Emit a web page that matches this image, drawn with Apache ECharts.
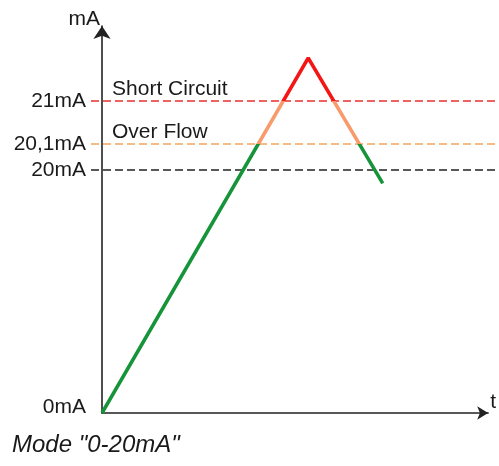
<!DOCTYPE html>
<html>
<head>
<meta charset="utf-8">
<script src="https://cdn.jsdelivr.net/npm/echarts@6/dist/echarts.min.js"></script>
<style>
  html, body { margin: 0; padding: 0; background: #fff; }
  #main { width: 499px; height: 466px; }
</style>
</head>
<body>
<div id="main"></div>
<script>
// time runs 0..100 along the t axis (arbitrary units)
const traceTime = [0, 53.4, 72.7]
const traceCurrent = [0, 21.9, 18.9] // mA

const levelValues = [21, 20.1, 20]
const levelNames = ['Short Circuit', 'Over Flow', '']
const levelColors = ['#e8312b', '#f4a55a', '#222222']

const tickValues = [0, 20, 20.1, 21]
const tickLabels = ['0mA', '20mA', '20,1mA', '21mA']

// the sketch is not to scale: the band above 20mA is stretched out
function toAxis(mA) {
  if (mA <= 20) return mA * 243 / 20
  if (mA <= 20.1) return 243 + (mA - 20) * 260
  return 269 + (mA - 20.1) * 43 / 0.9
}

const chartDom = document.getElementById('main')
const myChart = echarts.init(chartDom)

const font = 'Liberation Sans, Arial, sans-serif'
const textColor = '#1a1a1a'
const yMax = 387

// dashed threshold lines live in a second, wider grid (from the tick area to the right edge)
const levelSeries = levelValues.map((v, i) => ({
  type: 'line',
  xAxisIndex: 1,
  yAxisIndex: 1,
  silent: true,
  symbol: 'none',
  z: 2,
  data: [[0, toAxis(v)], [1, toAxis(v)]],
  lineStyle: { color: levelColors[i], width: 1.7, type: [8, 4] }
}))

// names written above the lines
const nameSeries = {
  type: 'scatter',
  symbolSize: 0,
  silent: true,
  z: 4,
  itemStyle: { opacity: 1 },
  data: levelValues
    .map((v, i) => ({ value: [2.6, toAxis(v)], name: levelNames[i] }))
    .filter(d => d.name !== ''),
  label: {
    show: true,
    position: [0, 0],
    offset: [0, -12],
    align: 'left',
    verticalAlign: 'middle',
    formatter: p => p.name,
    fontFamily: font,
    fontSize: 21,
    color: textColor,
    opacity: 1
  }
}

const traceSeries = {
  type: 'line',
  symbol: 'none',
  z: 3,
  data: traceTime.map((t, i) => [t, toAxis(traceCurrent[i])]),
  lineStyle: { width: 3.5 }
}

const hiddenAxis = {
  type: 'value',
  show: false,
  splitLine: { show: false }
}

const option = {
  animation: false,
  grid: [
    { left: 102, right: 9, top: 26, bottom: 53 },
    { left: 91, right: 0, top: 26, bottom: 53 }
  ],
  title: {
    text: 'Mode "0-20mA"',
    left: 12,
    top: 433,
    padding: 0,
    textStyle: { fontFamily: font, fontSize: 24, fontStyle: 'italic', fontWeight: 'normal', color: textColor }
  },
  visualMap: {
    type: 'piecewise',
    show: false,
    seriesIndex: 4,
    dimension: 1,
    pieces: [
      { lt: toAxis(20.1), color: '#16943a' },
      { gte: toAxis(20.1), lt: toAxis(21), color: '#f89a6b' },
      { gte: toAxis(21), color: '#f41515' }
    ]
  },
  xAxis: [
    {
      type: 'value',
      gridIndex: 0,
      min: 0,
      max: 100,
      name: 't',
      nameLocation: 'end',
      nameGap: 2,
      nameTextStyle: { fontFamily: font, fontSize: 21, color: textColor, verticalAlign: 'bottom' },
      axisLine: { lineStyle: { color: '#222', width: 1.6 }, symbol: ['none', 'arrow'], symbolSize: [10, 11] },
      axisTick: { show: false },
      axisLabel: { show: false },
      splitLine: { show: false }
    },
    { ...hiddenAxis, gridIndex: 1, min: 0, max: 1 }
  ],
  yAxis: [
    {
      type: 'value',
      gridIndex: 0,
      min: 0,
      max: yMax,
      name: 'mA',
      nameLocation: 'end',
      nameGap: -4,
      nameTextStyle: { fontFamily: font, fontSize: 21, color: textColor, align: 'right', padding: [0, 2, 0, 0] },
      axisLine: { show: true, lineStyle: { color: '#222', width: 1.6 }, symbol: ['none', 'arrow'], symbolSize: [13, 13] },
      axisTick: { show: false },
      splitLine: { show: false },
      axisLabel: {
        customValues: tickValues.map(toAxis),
        margin: 16,
        fontFamily: font,
        fontSize: 21,
        color: textColor,
        formatter: value => {
          const i = tickValues.findIndex(v => Math.abs(toAxis(v) - value) < 0.01)
          if (i === 0) return '{low|' + tickLabels[i] + '}'
          return i >= 0 ? tickLabels[i] : ''
        },
        rich: {
          low: { fontFamily: font, fontSize: 21, color: textColor, padding: [0, 0, 12, 0] }
        }
      }
    },
    { ...hiddenAxis, gridIndex: 1, min: 0, max: yMax }
  ],
  series: [...levelSeries, nameSeries, traceSeries]
}

option && myChart.setOption(option)
</script>
</body>
</html>
